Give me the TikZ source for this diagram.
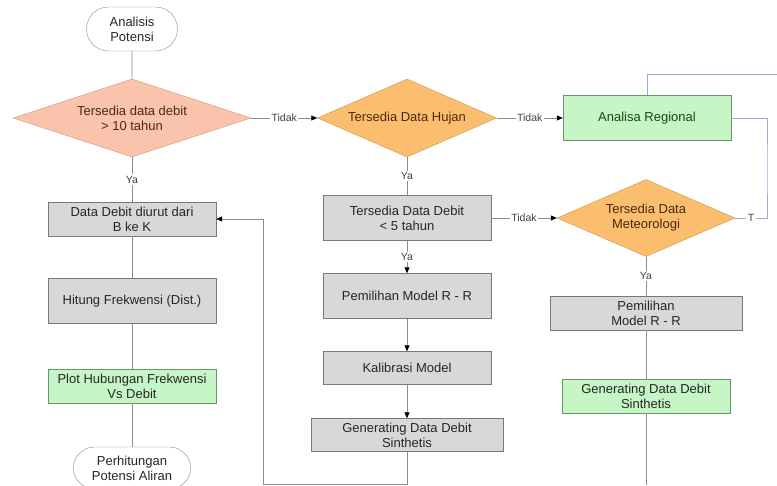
\documentclass[tikz,border=0pt]{standalone}
\usepackage{fontspec}
\setmainfont{Liberation Sans}
\usepackage{xcolor}
\usetikzlibrary{positioning,shapes.geometric,shapes.misc,arrows.meta}

\definecolor{salmonfill}{RGB}{250,196,172}
\definecolor{salmonline}{RGB}{205,150,125}
\definecolor{orangefill}{RGB}{251,190,110}
\definecolor{orangeline}{RGB}{205,145,70}
\definecolor{greenfill}{RGB}{198,245,198}
\definecolor{greenline}{RGB}{105,150,105}
\definecolor{greentext}{RGB}{20,75,20}
\definecolor{boxfill}{RGB}{216,216,216}
\definecolor{boxline}{RGB}{120,120,120}
\definecolor{flowgray}{RGB}{140,140,140}
\definecolor{loopblue}{RGB}{165,165,215}
\definecolor{browntext}{RGB}{75,40,15}

\begin{document}
\begin{tikzpicture}[x=1pt,y=1pt,node distance=85pt,
			>={Triangle[black,length=6pt,width=5pt]},
			font=\fontsize{13}{15}\selectfont,text=black!85]
			\tikzstyle{box}=[rectangle,draw=boxline,fill=boxfill,minimum width=168pt,minimum height=45pt,align=center,inner sep=2pt]
			\tikzstyle{greenbox}=[box,fill=greenfill,draw=greenline]
			\tikzstyle{terminal}=[rounded rectangle,draw=flowgray,fill=white,minimum width=95pt,minimum height=44pt,align=center,inner sep=2pt]
			\tikzstyle{decision}=[diamond,align=center,inner sep=0pt,shape aspect=3]
			\tikzstyle{flowline}=[draw=flowgray,line width=0.7pt]
			\tikzstyle{loopline}=[draw=loopblue,line width=0.8pt]
			\tikzstyle{lbl}=[fill=white,text=black!75,font=\fontsize{10.5}{12}\selectfont,inner sep=1.5pt]
			\useasboundingbox (0,0) rectangle (777,-485);
			\node[terminal]    (A) at (132,-29)    {Analisis\\Potensi};
			\node[decision, fill=salmonfill, draw=salmonline, text=browntext, minimum width=238pt, minimum height=78pt]    (D1)[below of = A, yshift=-4pt]    {Tersedia data debit\\> 10 tahun};
			\node[decision, fill=orangefill, draw=orangeline, text=browntext, minimum width=179pt, minimum height=78pt]    (D2)[right of = D1, xshift=190pt]    {Tersedia Data Hujan};
			\node[greenbox, text=greentext]    (AR)[right of = D2, xshift=155pt]    {Analisa Regional};
			\node[box]    (TD)[below of = D2, yshift=-15pt]    {Tersedia Data Debit\\< 5 tahun};
			\node[decision, fill=orangefill, draw=orangeline, text=browntext, minimum width=178pt, minimum height=77pt]    (D3)[right of = TD, xshift=154pt]    {Tersedia Data\\Meteorologi};
			\node[box]    (PM)[below of = TD, yshift=7pt]    {Pemilihan Model R - R};
			\node[box, minimum height=33pt]    (KM)[below of = PM, yshift=13pt]    {Kalibrasi Model};
			\node[box, minimum width=192pt, minimum height=33pt]    (GM)[below of = KM, yshift=18pt]    {Generating Data Debit\\Sinthetis};
			\node[box, minimum width=192pt, minimum height=34pt]    (PR)[below of = D3, yshift=-10pt]    {Pemilihan\\Model R - R};
			\node[greenbox, minimum height=34pt]    (GR)[below of = PR, yshift=2pt]    {Generating Data Debit\\Sinthetis};
			\node[box, minimum height=34pt]    (DD)[below of = D1, yshift=-16pt]    {Data Debit diurut dari\\B ke K};
			\node[box]    (HF)[below of = DD, yshift=3pt]    {Hitung Frekwensi (Dist.)};
			\node[greenbox, minimum height=34pt]    (PH)[below of = HF]    {Plot Hubungan Frekwensi\\Vs Debit};
			\node[terminal, minimum width=121pt, minimum height=42pt]    (PA)[below of = PH, yshift=3pt]    {Perhitungan\\Potensi Aliran};
			\coordinate (back) at (263,-484);
			\coordinate (endR) at (646,-485);
			\coordinate (loopR) at (767,-170);
			\coordinate (offR) at (777,-74);
			
			\path[flowline]
			(A) edge (D1)
			(D1) edge node[lbl] {Ya} (DD)
			(DD) edge (HF)
			(HF) edge (PH)
			(PH) edge (PA)
			(D2) edge node[lbl] {Ya} (TD)
			(D3) edge node[lbl] {Ya} (PR)
			(PR) edge (GR);
			\path[flowline,->]
			(D1) edge node[lbl] {Tidak} (D2)
			(D2) edge node[lbl] {Tidak} (AR)
			(TD) edge node[lbl] {Tidak} (D3)
			(TD) edge node[lbl] {Ya} (PM)
			(PM) edge (KM)
			(KM) edge (GM);
			\draw[flowline] (GR.south) -- (GR.south |- endR);
			\draw[flowline,->] (GM.south) |- (back) |- (DD.east);
			\draw[loopline] (AR.east) -| (loopR) |- node[lbl,pos=0.75] {T} (D3.east);
			\draw[loopline] (AR.north) |- (offR);
			
			\end{tikzpicture}
\end{document}
